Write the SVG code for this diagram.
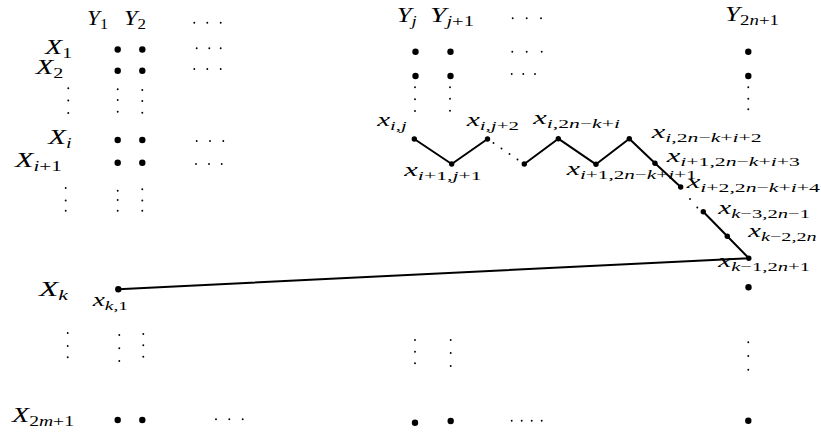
<svg xmlns="http://www.w3.org/2000/svg" width="821" height="434" viewBox="0 0 821 434">
<style>
.t{font-family:"Liberation Serif","DejaVu Serif",serif;font-size:19px;font-style:italic;fill:#000}
.T{font-size:21.5px}
.s{font-size:13.5px}
.S{font-size:15px}
.u{font-style:normal}
.n{fill:#000}
.z{fill:#000}
.d{fill:#000}
.e{stroke:#000;stroke-width:2;fill:none;stroke-linejoin:round;stroke-linecap:round}
</style>
<defs>
<circle id="big" r="3.2"/>
<circle id="zz" r="2.7"/>
<circle id="dot" r="0.95"/>
</defs>
<rect width="821" height="434" fill="#fff"/>

<!-- column headings -->
<g id="col-labels">
<text class="t T" x="87" y="25" textLength="21" lengthAdjust="spacingAndGlyphs">Y<tspan class="S u" dy="4">1</tspan></text>
<text class="t T" x="124" y="25" textLength="22" lengthAdjust="spacingAndGlyphs">Y<tspan class="S u" dy="4">2</tspan></text>
<text class="t T" x="396.7" y="22" textLength="20" lengthAdjust="spacingAndGlyphs">Y<tspan class="S" dy="4">j</tspan></text>
<text class="t T" x="430" y="22" textLength="44" lengthAdjust="spacingAndGlyphs">Y<tspan class="S" dy="4">j<tspan class="u">+1</tspan></tspan></text>
<text class="t T" x="725" y="21" textLength="54" lengthAdjust="spacingAndGlyphs">Y<tspan class="S" dy="4"><tspan class="u">2</tspan>n<tspan class="u">+1</tspan></tspan></text>
</g>

<!-- row headings -->
<g id="row-labels">
<text class="t T" x="45" y="54" textLength="27" lengthAdjust="spacingAndGlyphs">X<tspan class="S u" dy="4">1</tspan></text>
<text class="t T" x="35.7" y="74" textLength="27.6" lengthAdjust="spacingAndGlyphs">X<tspan class="S u" dy="4">2</tspan></text>
<text class="t T" x="48.3" y="144" textLength="23.4" lengthAdjust="spacingAndGlyphs">X<tspan class="S" dy="4">i</tspan></text>
<text class="t T" x="15" y="167" textLength="46.7" lengthAdjust="spacingAndGlyphs">X<tspan class="S" dy="4">i<tspan class="u">+1</tspan></tspan></text>
<text class="t T" x="39" y="296" textLength="29" lengthAdjust="spacingAndGlyphs">X<tspan class="S" dy="4">k</tspan></text>
<text class="t T" x="12" y="422" textLength="62" lengthAdjust="spacingAndGlyphs">X<tspan class="S" dy="4"><tspan class="u">2</tspan>m<tspan class="u">+1</tspan></tspan></text>
</g>

<!-- ellipses (small dots) -->
<g id="ellipses" class="d">
<use href="#dot" x="194.3" y="22.7"/><use href="#dot" x="207.3" y="22.7"/><use href="#dot" x="220.7" y="22.7"/>
<use href="#dot" x="196.7" y="48.3"/><use href="#dot" x="209.3" y="48.3"/><use href="#dot" x="220.7" y="48.3"/>
<use href="#dot" x="194.3" y="69"/><use href="#dot" x="207.3" y="69"/><use href="#dot" x="220.7" y="69"/>
<use href="#dot" x="196.7" y="141"/><use href="#dot" x="210" y="141"/><use href="#dot" x="223.3" y="141"/>
<use href="#dot" x="196" y="164"/><use href="#dot" x="209" y="164"/><use href="#dot" x="221.7" y="164"/>
<use href="#dot" x="216" y="419.3"/><use href="#dot" x="229.3" y="419.3"/><use href="#dot" x="242.7" y="419.3"/>
<use href="#dot" x="512.7" y="18.3"/><use href="#dot" x="526.7" y="18.3"/><use href="#dot" x="541" y="18.3"/>
<use href="#dot" x="512.3" y="51.7"/><use href="#dot" x="526.7" y="51.7"/><use href="#dot" x="541.7" y="51.7"/>
<use href="#dot" x="511.7" y="74"/><use href="#dot" x="523.3" y="74"/><use href="#dot" x="535" y="74"/>
<use href="#dot" x="511.7" y="420.7"/><use href="#dot" x="521.7" y="420.7"/><use href="#dot" x="531.7" y="420.7"/><use href="#dot" x="541.7" y="420.7"/>

<use href="#dot" x="68.3" y="88.3"/><use href="#dot" x="68.3" y="100.5"/><use href="#dot" x="68.3" y="113"/>
<use href="#dot" x="117.7" y="89.3"/><use href="#dot" x="117.7" y="100"/><use href="#dot" x="117.7" y="111.7"/>
<use href="#dot" x="142.3" y="90"/><use href="#dot" x="142.3" y="101"/><use href="#dot" x="142.3" y="112.7"/>
<use href="#dot" x="65.7" y="188"/><use href="#dot" x="65.7" y="200.5"/><use href="#dot" x="65.7" y="210.7"/>
<use href="#dot" x="117.7" y="190.7"/><use href="#dot" x="117.7" y="200"/><use href="#dot" x="117.7" y="210.7"/>
<use href="#dot" x="142.3" y="189.3"/><use href="#dot" x="142.3" y="200.5"/><use href="#dot" x="142.3" y="210.7"/>
<use href="#dot" x="67.7" y="333"/><use href="#dot" x="67.7" y="346"/><use href="#dot" x="67.7" y="357.3"/>
<use href="#dot" x="119.3" y="335"/><use href="#dot" x="119.3" y="348.3"/><use href="#dot" x="119.3" y="361"/>
<use href="#dot" x="143.3" y="334"/><use href="#dot" x="143.3" y="345.3"/><use href="#dot" x="143.3" y="356.7"/>
<use href="#dot" x="415" y="87.3"/><use href="#dot" x="415" y="99.3"/><use href="#dot" x="415" y="111"/>
<use href="#dot" x="450" y="87.3"/><use href="#dot" x="450" y="98.7"/><use href="#dot" x="450" y="110.7"/>
<use href="#dot" x="748.3" y="87.3"/><use href="#dot" x="748.3" y="98.7"/><use href="#dot" x="748.3" y="109.3"/>
<use href="#dot" x="415" y="340"/><use href="#dot" x="415" y="351.7"/><use href="#dot" x="415" y="363.3"/>
<use href="#dot" x="450.7" y="340"/><use href="#dot" x="450.7" y="353"/><use href="#dot" x="450.7" y="366"/>
<use href="#dot" x="748.3" y="342.3"/><use href="#dot" x="748.3" y="356"/><use href="#dot" x="748.3" y="369.7"/>
</g>

<!-- connectors -->
<g id="connectors">
<polyline class="e" points="414.3,139 451.7,164 487.5,139"/>
<polyline class="e" points="524.3,164 558.3,138.7 596,164.3 629.3,138.7 655,163.3 680.7,187"/>
<polyline class="e" points="703.3,211.7 727.3,236.2 748.8,258.2 118.3,289.3"/>
<g class="d">
<use href="#dot" x="493.5" y="143"/><use href="#dot" x="501.5" y="148.5"/><use href="#dot" x="509.5" y="154"/><use href="#dot" x="517.5" y="159.5"/>
<use href="#dot" x="690" y="199"/><use href="#dot" x="697.3" y="207.5"/>
</g>
</g>

<!-- grid nodes -->
<g id="n-1-1" class="n"><use href="#big" x="117.7" y="49.5"/></g>
<g id="n-1-2" class="n"><use href="#big" x="142.3" y="49.5"/></g>
<g id="n-2-1" class="n"><use href="#big" x="117.7" y="70.7"/></g>
<g id="n-2-2" class="n"><use href="#big" x="142.3" y="70.7"/></g>
<g id="n-i-1" class="n"><use href="#big" x="117.7" y="140"/></g>
<g id="n-i-2" class="n"><use href="#big" x="142.3" y="140"/></g>
<g id="n-i1-1" class="n"><use href="#big" x="117.7" y="162.7"/></g>
<g id="n-i1-2" class="n"><use href="#big" x="142.3" y="162.7"/></g>
<g id="n-2m1-1" class="n"><use href="#big" x="117.7" y="420"/></g>
<g id="n-2m1-2" class="n"><use href="#big" x="142.3" y="420"/></g>
<g id="n-1-j" class="n"><use href="#big" x="415.5" y="51.7"/></g>
<g id="n-1-j1" class="n"><use href="#big" x="450.5" y="51.7"/></g>
<g id="n-2-j" class="n"><use href="#big" x="415.5" y="76"/></g>
<g id="n-2-j1" class="n"><use href="#big" x="450.5" y="76"/></g>
<g id="n-1-2n1" class="n"><use href="#big" x="748.3" y="51.7"/></g>
<g id="n-2-2n1" class="n"><use href="#big" x="748.3" y="76"/></g>
<g id="n-2m1-j" class="n"><use href="#big" x="415" y="422.7"/></g>
<g id="n-2m1-j1" class="n"><use href="#big" x="450.7" y="421"/></g>
<g id="n-2m1-2n1" class="n"><use href="#big" x="748.3" y="420.7"/></g>
<g id="n-k-2n1" class="n"><use href="#big" x="748.5" y="287.3"/></g>

<!-- labelled path nodes -->
<g id="x-k-1" class="n"><use href="#big" x="118.3" y="289.3"/>
<text class="t" x="92.7" y="306" textLength="35.3" lengthAdjust="spacingAndGlyphs">x<tspan class="s" dy="4">k<tspan class="u">,1</tspan></tspan></text></g>
<g id="x-i-j" class="z"><use href="#zz" x="414.3" y="139"/>
<text class="t" x="377.3" y="126" textLength="29.4" lengthAdjust="spacingAndGlyphs">x<tspan class="s" dy="4">i<tspan class="u">,</tspan>j</tspan></text></g>
<g id="x-i1-j1" class="z"><use href="#zz" x="451.7" y="164"/>
<text class="t" x="404.3" y="176" textLength="77.4" lengthAdjust="spacingAndGlyphs">x<tspan class="s" dy="4">i<tspan class="u">+1,</tspan>j<tspan class="u">+1</tspan></tspan></text></g>
<g id="x-i-j2" class="z"><use href="#zz" x="487.5" y="139"/>
<text class="t" x="466.7" y="126" textLength="52.3" lengthAdjust="spacingAndGlyphs">x<tspan class="s" dy="4">i<tspan class="u">,</tspan>j<tspan class="u">+2</tspan></tspan></text></g>
<g id="x-mid" class="z"><use href="#zz" x="524.3" y="164"/></g>
<g id="x-i-2nki" class="z"><use href="#zz" x="558.3" y="138.7"/>
<text class="t" x="533.3" y="124" textLength="86.7" lengthAdjust="spacingAndGlyphs">x<tspan class="s" dy="4">i<tspan class="u">,2</tspan>n<tspan class="u">−</tspan>k<tspan class="u">+</tspan>i</tspan></text></g>
<g id="x-i1-2nki1" class="z"><use href="#zz" x="596" y="164.3"/>
<text class="t" x="566.7" y="174.5" textLength="130" lengthAdjust="spacingAndGlyphs">x<tspan class="s" dy="4">i<tspan class="u">+1,2</tspan>n<tspan class="u">−</tspan>k<tspan class="u">+</tspan>i<tspan class="u">+1</tspan></tspan></text></g>
<g id="x-i-2nki2" class="z"><use href="#zz" x="629.3" y="138.7"/>
<text class="t" x="651.7" y="138" textLength="110" lengthAdjust="spacingAndGlyphs">x<tspan class="s" dy="4">i<tspan class="u">,2</tspan>n<tspan class="u">−</tspan>k<tspan class="u">+</tspan>i<tspan class="u">+2</tspan></tspan></text></g>
<g id="x-i1-2nki3" class="z"><use href="#zz" x="655" y="163.3"/>
<text class="t" x="666.7" y="161.5" textLength="133.3" lengthAdjust="spacingAndGlyphs">x<tspan class="s" dy="4">i<tspan class="u">+1,2</tspan>n<tspan class="u">−</tspan>k<tspan class="u">+</tspan>i<tspan class="u">+3</tspan></tspan></text></g>
<g id="x-i2-2nki4" class="z"><use href="#zz" x="680.7" y="187"/>
<text class="t" x="686.7" y="188" textLength="133.3" lengthAdjust="spacingAndGlyphs">x<tspan class="s" dy="4">i<tspan class="u">+2,2</tspan>n<tspan class="u">−</tspan>k<tspan class="u">+</tspan>i<tspan class="u">+4</tspan></tspan></text></g>
<g id="x-k3-2n1" class="z"><use href="#zz" x="703.3" y="211.7"/>
<text class="t" x="718.3" y="214" textLength="91.7" lengthAdjust="spacingAndGlyphs">x<tspan class="s" dy="4">k<tspan class="u">−3,2</tspan>n<tspan class="u">−1</tspan></tspan></text></g>
<g id="x-k2-2n" class="z"><use href="#zz" x="727.3" y="236.2"/>
<text class="t" x="748.3" y="237" textLength="68.4" lengthAdjust="spacingAndGlyphs">x<tspan class="s" dy="4">k<tspan class="u">−2,2</tspan>n</tspan></text></g>
<g id="x-k1-2n1" class="z"><use href="#zz" x="748.8" y="258.2"/>
<text class="t" x="718.3" y="267" textLength="91.7" lengthAdjust="spacingAndGlyphs">x<tspan class="s" dy="4">k<tspan class="u">−1,2</tspan>n<tspan class="u">+1</tspan></tspan></text></g>
</svg>
